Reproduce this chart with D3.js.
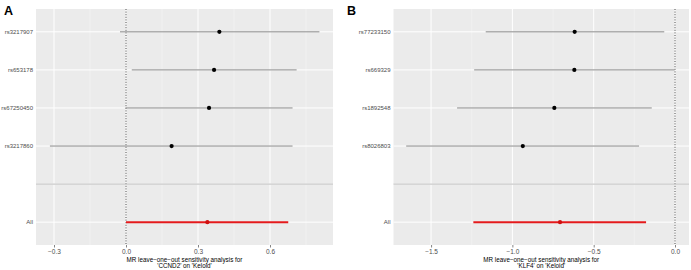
<!DOCTYPE html>
<html>
<head>
<meta charset="utf-8">
<script src="https://cdn.jsdelivr.net/npm/d3@7"></script>
<style>
  body { margin: 0; background: #fff; }
  svg { display: block; font-family: "Liberation Sans", Arial, sans-serif; }
</style>
</head>
<body>
<svg id="chart" width="691" height="270"></svg>
<script>
// panel A: CCND2 on Keloid
const snpsA = ["All", "", "rs3217860", "rs67250450", "rs653178", "rs3217907"];
const bA = [0.339, null, 0.19, 0.346, 0.367, 0.389];
const loA = [0.0, null, -0.317, -0.002, 0.024, -0.025];
const upA = [0.676, null, 0.694, 0.694, 0.711, 0.806];
const ticksA = [-0.3, 0.0, 0.3, 0.6];

// panel B: KLF4 on Keloid
const snpsB = ["All", "", "rs8026803", "rs1892548", "rs669329", "rs77233150"];
const bB = [-0.707, null, -0.936, -0.742, -0.619, -0.617];
const loB = [-1.24, null, -1.653, -1.34, -1.235, -1.164];
const upB = [-0.178, null, -0.221, -0.143, -0.002, -0.066];
const ticksB = [-1.5, -1.0, -0.5, 0.0];

const svg = d3.select("#chart");

function panel(opts) {
  const g = svg.append("g");
  const x = d3.scaleLinear().domain(opts.domain).range([opts.left, opts.right]);
  // discrete y with ggplot style expansion (0.6 units each side)
  const n = opts.snps.length;
  const y = d3.scaleLinear().domain([0.4, n + 0.6]).range([opts.bottom, opts.top]);

  g.append("rect")
    .attr("x", opts.left).attr("y", opts.top)
    .attr("width", opts.right - opts.left).attr("height", opts.bottom - opts.top)
    .attr("fill", "#EBEBEB");

  // minor grid
  const minor = opts.ticks.slice(0, -1).map((t, i) => (t + opts.ticks[i + 1]) / 2);
  const step = opts.ticks[1] - opts.ticks[0];
  minor.unshift(opts.ticks[0] - step / 2);
  minor.push(opts.ticks[opts.ticks.length - 1] + step / 2);
  g.selectAll(".minor").data(minor.filter(v => x(v) > opts.left && x(v) < opts.right))
    .join("line")
    .attr("x1", d => x(d)).attr("x2", d => x(d))
    .attr("y1", opts.top).attr("y2", opts.bottom)
    .attr("stroke", "#F5F5F5").attr("stroke-width", 0.5);

  // major grid
  g.selectAll(".vmaj").data(opts.ticks).join("line")
    .attr("x1", d => x(d)).attr("x2", d => x(d))
    .attr("y1", opts.top).attr("y2", opts.bottom)
    .attr("stroke", "#fff").attr("stroke-width", 1);
  g.selectAll(".hmaj").data(d3.range(1, n + 1)).join("line")
    .attr("x1", opts.left).attr("x2", opts.right)
    .attr("y1", d => y(d)).attr("y2", d => y(d))
    .attr("stroke", "#fff").attr("stroke-width", 1);

  // null line
  g.append("line")
    .attr("x1", x(0)).attr("x2", x(0))
    .attr("y1", opts.top).attr("y2", opts.bottom)
    .attr("stroke", "#222").attr("stroke-width", 0.8)
    .attr("stroke-dasharray", "1,1.6");

  const rows = opts.snps.map((s, i) => ({ snp: s, pos: i + 1, b: opts.b[i], lo: opts.lo[i], up: opts.up[i] }))
    .filter(d => d.b !== null);

  g.selectAll(".err").data(rows).join("line")
    .attr("x1", d => x(d.lo)).attr("x2", d => x(d.up))
    .attr("y1", d => y(d.pos)).attr("y2", d => y(d.pos))
    .attr("stroke", d => d.snp === "All" ? "#E41A1C" : "#8a8a8a")
    .attr("stroke-width", d => d.snp === "All" ? 2 : 1);

  // separator row
  const sep = opts.snps.indexOf("") + 1;
  g.append("line")
    .attr("x1", opts.left).attr("x2", opts.right)
    .attr("y1", y(sep)).attr("y2", y(sep))
    .attr("stroke", "#BEBEBE").attr("stroke-width", 1);

  g.selectAll(".pt").data(rows).join("circle")
    .attr("cx", d => x(d.b)).attr("cy", d => y(d.pos))
    .attr("r", 2.1)
    .attr("fill", d => d.snp === "All" ? "#D01010" : "#000");

  // y labels
  g.selectAll(".ylab").data(rows).join("text")
    .attr("x", opts.left - 3).attr("y", d => y(d.pos))
    .attr("dy", "0.35em")
    .attr("text-anchor", "end")
    .attr("font-size", 6)
    .attr("fill", "#4D4D4D")
    .text(d => d.snp);

  // x axis
  const ax = g.append("g").attr("transform", `translate(0,${opts.bottom})`)
    .call(d3.axisBottom(x).tickValues(opts.ticks).tickSize(2.5).tickPadding(2)
      .tickFormat(d => d3.format(".1f")(d).replace("-", "\u2212")));
  ax.select(".domain").remove();
  ax.selectAll(".tick line").attr("stroke", "#333").attr("stroke-width", 0.6);
  ax.selectAll(".tick text").attr("font-size", 6.5).attr("fill", "#4D4D4D")
    .attr("font-family", "inherit");

  const cx = (opts.left + opts.right) / 2;
  const title = g.append("text").attr("text-anchor", "middle")
    .attr("font-size", 6.3).attr("fill", "#000");
  opts.title.forEach((t, i) => {
    title.append("tspan").attr("x", cx).attr("y", 261.5 + i * 6).text(t);
  });

  g.append("text")
    .attr("x", opts.tagX).attr("y", 15)
    .attr("font-size", 12.5).attr("font-weight", "bold")
    .text(opts.tag);
}

panel({
  snps: snpsA, b: bA, lo: loA, up: upA, ticks: ticksA,
  domain: [-0.375, 0.8625], left: 36, right: 333, top: 9, bottom: 245,
  title: ["MR leave\u2212one\u2212out sensitivity analysis for", "'CCND2' on 'Keloid'"],
  tag: "A", tagX: 4
});

panel({
  snps: snpsB, b: bB, lo: loB, up: upB, ticks: ticksB,
  domain: [-1.731, 0.086], left: 393.5, right: 689, top: 9, bottom: 245,
  title: ["MR leave\u2212one\u2212out sensitivity analysis for", "'KLF4' on 'Keloid'"],
  tag: "B", tagX: 347
});
</script>
</body>
</html>
